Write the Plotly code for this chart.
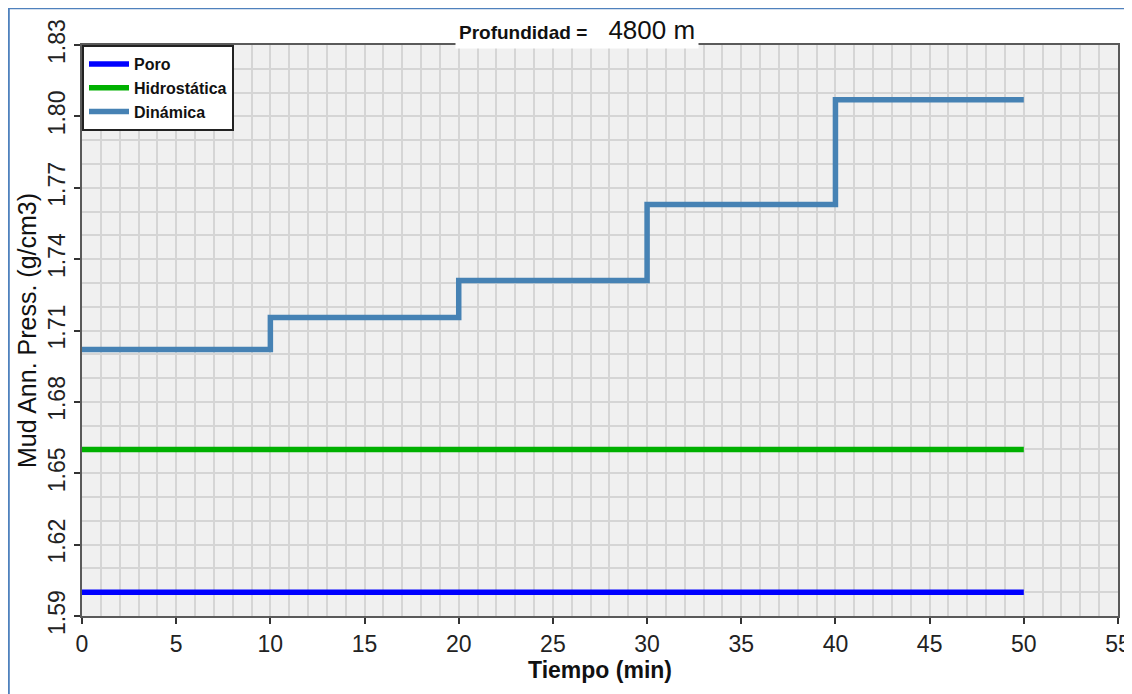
import plotly.graph_objects as go

# Datos (densidad equivalente vs tiempo)
tiempo_min = [0, 10, 20, 30, 40, 50]
poro = [1.600, 1.600, 1.600, 1.600, 1.600, 1.600]
hidrostatica = [1.660, 1.660, 1.660, 1.660, 1.660, 1.660]
dinamica = [1.702, 1.7155, 1.731, 1.763, 1.807, 1.807]

x_ticks = [0, 5, 10, 15, 20, 25, 30, 35, 40, 45, 50, 55]
y_ticks = [1.59, 1.62, 1.65, 1.68, 1.71, 1.74, 1.77, 1.80, 1.83]

FUENTE = "Arial, Liberation Sans, sans-serif"
GRID = "#d5d5d5"
MARCO = "#5a5a5a"

fig = go.Figure()
fig.add_trace(go.Scatter(x=tiempo_min, y=poro, name="<b>Poro</b>", mode="lines",
                         line=dict(color="#0000ff", width=5.5, shape="hv")))
fig.add_trace(go.Scatter(x=tiempo_min, y=hidrostatica, name="<b>Hidrostática</b>", mode="lines",
                         line=dict(color="#00b000", width=5.5, shape="hv")))
fig.add_trace(go.Scatter(x=tiempo_min, y=dinamica, name="<b>Dinámica</b>", mode="lines",
                         line=dict(color="#4682b4", width=5.5, shape="hv")))

fig.update_xaxes(
    range=[0, 55], tickvals=x_ticks, ticks="outside", ticklen=6, tickwidth=1.5,
    tickcolor="#333", showline=True, linecolor=MARCO, linewidth=2, mirror=True,
    showgrid=True, gridcolor=GRID, gridwidth=2, zeroline=False, automargin=False,
    minor=dict(dtick=1, tick0=0, showgrid=True, gridcolor=GRID, gridwidth=2),
    tickfont=dict(family=FUENTE, size=23, color="#222"),
    title=dict(text="<b>Tiempo (min)</b>", standoff=4,
               font=dict(family=FUENTE, size=23, color="#111")),
)
fig.update_yaxes(
    range=[1.59, 1.83], tickvals=y_ticks, tickformat=".2f", tickangle=-90,
    ticks="outside", ticklen=6, tickwidth=1.5, tickcolor="#333",
    showline=True, linecolor=MARCO, linewidth=2, mirror=True,
    showgrid=True, gridcolor=GRID, gridwidth=2, zeroline=False, automargin=False,
    minor=dict(dtick=0.01, tick0=1.59, showgrid=True, gridcolor=GRID, gridwidth=2),
    tickfont=dict(family=FUENTE, size=23, color="#222"),
    title=dict(text="Mud Ann. Press. (g/cm3)", standoff=0,
               font=dict(family=FUENTE, size=25, color="#111")),
)

# La página añade 8 px de margen; la figura ocupa el resto de la ventana
fig.update_layout(
    template="none",
    width=1124, height=686,
    margin=dict(l=74, r=14, t=37, b=78),
    paper_bgcolor="white", plot_bgcolor="#f0f0f0",
    showlegend=True,
    legend=dict(x=0, y=1, xanchor="left", yanchor="top",
                bgcolor="white", bordercolor="#222", borderwidth=2,
                font=dict(family=FUENTE, size=16, color="#111"),
                itemwidth=40, tracegroupgap=0),
    annotations=[dict(
        text="<b>Profundidad =</b>&nbsp;&nbsp;&nbsp;&nbsp;<span style='font-size:26px'>4800 m</span>",
        xref="paper", yref="paper", x=0.4778, y=1.026,
        xanchor="center", yanchor="middle", showarrow=False,
        bgcolor="white", borderpad=3,
        font=dict(family=FUENTE, size=19, color="#111"),
    )],
    shapes=[
        # marco azul exterior (solo bordes izquierdo y superior visibles)
        dict(type="line", xref="paper", yref="paper",
             x0=-0.0709, x1=-0.0709, y0=1.0648, y1=-0.2,
             line=dict(color="#4f81bd", width=2.5)),
        dict(type="line", xref="paper", yref="paper",
             x0=-0.0709, x1=1.05, y0=1.0648, y1=1.0648,
             line=dict(color="#4f81bd", width=2.5)),
    ],
)

fig.write_html("out.html")
